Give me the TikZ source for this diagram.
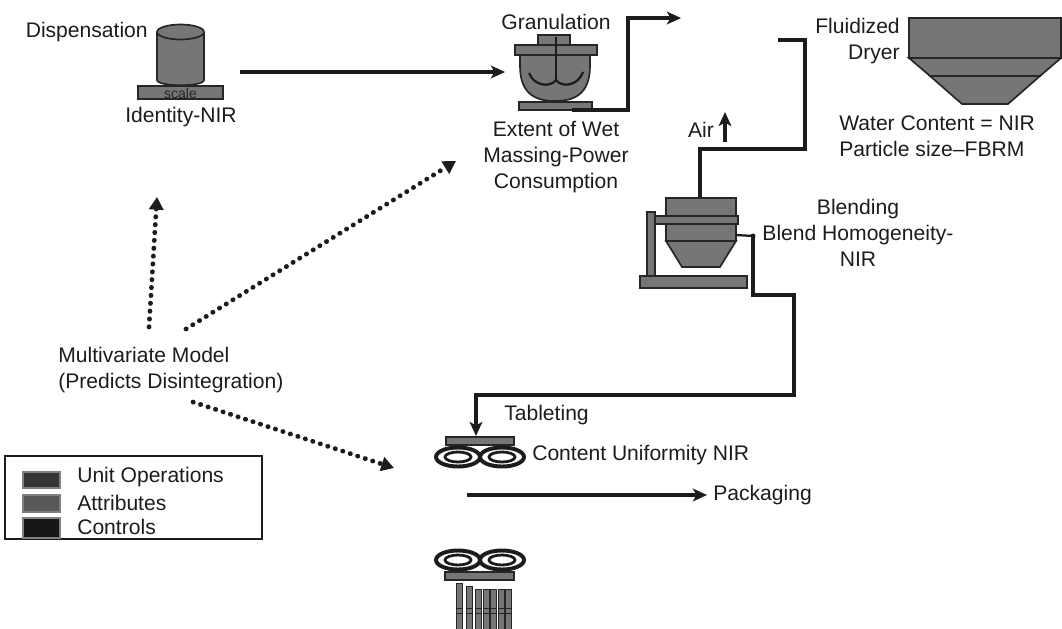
\documentclass[tikz,border=0pt]{standalone}
\usepackage{fontspec}
\setmainfont{Liberation Sans}
\usepackage{tikz}
\usetikzlibrary{arrows.meta,positioning,calc}
\definecolor{unitfill}{RGB}{118,118,118}
\definecolor{edgedark}{RGB}{38,38,38}
\definecolor{inkblack}{RGB}{28,28,28}
\definecolor{swuo}{RGB}{52,52,52}
\definecolor{swattr}{RGB}{88,88,88}
\definecolor{swctrl}{RGB}{22,22,22}

\begin{document}
\begin{tikzpicture}[
  x=0.025cm, y=-0.025cm,
  font=\fontsize{15}{18.4}\selectfont,
  every node/.style={text=inkblack, inner sep=0pt},
  unit/.style={draw=edgedark, fill=unitfill, line width=1.2pt},
  pipe/.style={draw=inkblack, line width=2.4pt},
  flow/.style={pipe, -{Stealth[length=10pt,width=9pt,inset=2.5pt]}},
  model/.style={draw=inkblack, line width=3.4pt, line cap=round, dash pattern=on 0.2pt off 5.4pt, -{Triangle[length=9pt,width=10pt]}},
  ring/.style={draw=inkblack, line width=2.8pt},
  blade/.style={draw=inkblack, line width=1.6pt}
]
\useasboundingbox (0,0) rectangle (1062,629);

% dispensation
\draw[unit] (157,32) -- (157,80) .. controls (157,87) and (204,87) .. (204,80) -- (204,32);
\draw[unit] (180.5,32) ellipse [x radius=23.5, y radius=7.5];
\draw[unit] (138,86) rectangle (223,99);
\node[font=\fontsize{10}{10}\selectfont, text=edgedark] (scale) at (180.5,93) {scale};
\node[anchor=east] (disp) at (148,32) {Dispensation};
\node (idnir) at (181,117) {Identity-NIR};

% granulation
\draw[unit] (538,35) rectangle (570,45);
\draw[unit] (515,45) rectangle (597,55);
\draw[unit] (520,55) -- (520,66) .. controls (520,96) and (538,101) .. (555,101) .. controls (572,101) and (590,96) .. (590,66) -- (590,55) -- cycle;
\draw[unit] (519,102) rectangle (592,110);
\draw[blade] (556,37) -- (556,82);
\draw[blade] (529,73) .. controls (534,86) and (550,88) .. (556,80) .. controls (562,88) and (578,86) .. (583,72);
\node (gran) at (556,22) {Granulation};
\node[align=center] (wetmass) at (556,157) {Extent of Wet\\Massing-Power\\Consumption};

\coordinate (dispout) at (240,72);
\coordinate (granin) at (505,72);
\draw[flow] (dispout) -- (granin);
\coordinate (granout) at (572,110);
\coordinate (granup) at (681,18);
\draw[flow] (granout) -| (628,18) -- (granup);

% fluidized dryer
\draw[unit] (909,18) rectangle (1061,58);
\draw[unit] (909,58) -- (1061,58) -- (1040,76) -- (930,76) -- cycle;
\draw[unit] (930,76) -- (1040,76) -- (1008,104) -- (962,104) -- cycle;
\node[anchor=east, align=right] (dryer) at (900,41) {Fluidized\\Dryer};
\node[anchor=west, align=left] (drynir) at (839,136) {Water Content = NIR\\Particle size--FBRM};

\coordinate (dryerfeed) at (778,40);
\coordinate (blendin) at (700,198);
\draw[pipe] (dryerfeed) -- (805,40) -- (805,149) -- (700,149) -- (blendin);
\node (air) at (701,130) {Air};
\coordinate (airlow) at (725,142);
\coordinate (airhigh) at (725,112);
\draw[flow] (airlow) -- (airhigh);

% blending
\draw[unit] (666,198) rectangle (736,216);
\draw[unit] (666,224) rectangle (736,241);
\draw[unit] (666,241) -- (736,241) -- (720,267) -- (682,267) -- cycle;
\draw[unit] (655,216) rectangle (738,224);
\draw[unit] (647,212) rectangle (655,277);
\draw[unit] (640,276) rectangle (747,288);
\node[align=center] (blend) at (858,233) {Blending\\Blend Homogeneity-\\NIR};

\coordinate (blendport) at (736,235);
\coordinate (blendout) at (753,236);
\draw[blade] (blendport) -- (blendout);
\fill[inkblack] (blendout) circle [radius=2.5];
\coordinate (tabin) at (476,436);
\draw[flow] (blendout) -- (753,295) -- (794,295) -- (794,395) -- (476,395) -- (tabin);

% multivariate model
\node[anchor=west, align=left] (mvm) at (58,370) {Multivariate Model\\(Predicts Disintegration)};
\coordinate (mvup) at (149,327);
\coordinate (mvdisp) at (157,197);
\coordinate (mvright) at (186,329);
\coordinate (mvgran) at (456,161);
\coordinate (mvdown) at (193,402);
\coordinate (mvtab) at (394,468);
\draw[model] (mvup) -- (mvdisp);
\draw[model] (mvright) -- (mvgran);
\draw[model] (mvdown) -- (mvtab);

% tableting
\draw[unit] (446,437) rectangle (514,445);
\foreach \cx in {458,502} {
  \draw[ring] (\cx,457) ellipse [x radius=22, y radius=9.5];
  \draw[ring, line width=2pt] (\cx,457) ellipse [x radius=13, y radius=5];
}
\node[anchor=west] (tab) at (504,415) {Tableting};
\node[anchor=west] (cunir) at (532,455) {Content Uniformity NIR};

\coordinate (packstart) at (467,495);
\coordinate (packend) at (707,495);
\draw[flow] (packstart) -- (packend);
\node[anchor=west] (pack) at (713,495) {Packaging};

% lower punches
\foreach \cx in {458,502} {
  \draw[ring] (\cx,560) ellipse [x radius=22, y radius=9.5];
  \draw[ring, line width=2pt] (\cx,560) ellipse [x radius=13, y radius=5];
}
\draw[unit] (445,572) rectangle (514,580);
\foreach \px/\py in {456/583,466/586,475/589,483/589,490/589,498/589,505/589} {
  \draw[unit, line width=0.5pt] (\px,\py) rectangle ++(6,48);
  \draw[edgedark, line width=0.7pt] (\px,608) -- ++(6,0) (\px,613) -- ++(6,0);
}

% legend
\draw[inkblack, line width=1.8pt] (5,456) rectangle (262,539);
\foreach \y/\yy/\c/\t in {472/488/swuo/Unit Operations, 495/512/swattr/Attributes, 518/538/swctrl/Controls} {
  \draw[gray, fill=\c, line width=0.8pt] (23,\y) rectangle (60,\yy);
}
\node[anchor=west] (leguo) at (77,477) {Unit Operations};
\node[anchor=west] (legattr) at (77,503) {Attributes};
\node[anchor=west] (legctrl) at (77,527) {Controls};
\end{tikzpicture}
\end{document}
